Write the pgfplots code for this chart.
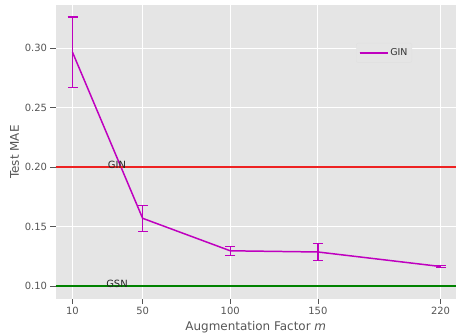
\documentclass[border=0pt]{standalone}
\usepackage{fontspec}
\setmainfont{DejaVu Sans}
\usepackage{pgfplots}
\pgfplotsset{compat=1.18}
\definecolor{bg}{RGB}{229,229,229}
\definecolor{tx}{RGB}{85,85,85}
\definecolor{mag}{RGB}{191,0,191}
\definecolor{gred}{RGB}{238,34,34}
\definecolor{ggreen}{RGB}{0,130,0}
\begin{document}
\begin{tikzpicture}
\begin{axis}[
 set layers, axis on top=false,
 scale only axis, width=400.5bp, height=294bp,
 xmin=0.3, xmax=228.8, ymin=0.0892, ymax=0.3362,
 axis background/.style={fill=bg},
 axis line style={draw=none},
 grid=major, major grid style={color=white, line width=0.9pt},
 xtick={10,50,100,150,220},
 ytick={0.10,0.15,0.20,0.25,0.30},
 xtick pos=lower, ytick pos=left,
 yticklabel style={/pgf/number format/.cd, fixed, fixed zerofill, precision=2},
 tick align=outside, tick style={color=tx, line width=0.7pt}, major tick length=5bp,
 ticklabel style={font=\fontsize{10}{10}\selectfont, text=tx},
 /pgf/number format/assume math mode=true,
 xlabel={Augmentation Factor \textit{m}}, ylabel={Test MAE},
 label style={font=\fontsize{12}{12}\selectfont, text=tx},
 xlabel style={at={(axis description cs:0.5,-0.0952)}, anchor=center},
 ylabel style={at={(axis description cs:-0.1024,0.5)}, anchor=center},
 legend style={at={(0.7505,0.871)}, anchor=north west, fill=bg, draw=black!12, rounded corners=2pt, font=\fontsize{9.5}{9.5}\selectfont, text=black!80, inner xsep=2.5pt, inner ysep=3.5pt},
 legend cell align=left,
 legend image code/.code={\path (0bp,0bp) -- (28bp,0bp); \draw[color=mag, line width=1.5pt] (0bp,0bp) -- (22bp,0bp);},
]
\addplot[color=mag, line width=1.5pt, mark=none,
  error bars/y dir=both, error bars/y explicit,
  error bars/error mark=|,
  error bars/error bar style={line width=1.3pt},
  error bars/error mark options={line width=1.3pt, mark size=5bp}]
 table[x=x, y=y, y error=e] {
x y e
10 0.2965 0.0295
50 0.157 0.011
100 0.1297 0.0037
150 0.1287 0.0071
220 0.1165 0.0008
};
\addlegendentry{GIN}
\addplot[color=gred, line width=1.5pt, forget plot] coordinates {(0.3,0.2) (228.8,0.2)};
\addplot[color=ggreen, line width=1.5pt, forget plot] coordinates {(0.3,0.1) (228.8,0.1)};
\node[anchor=base, font=\fontsize{10}{10}\selectfont, inner sep=0pt, text=black!85] at (axis cs:35.4,0.1985) {GIN};
\node[anchor=base, font=\fontsize{10}{10}\selectfont, inner sep=0pt, text=black!85] at (axis cs:35.4,0.0985) {GSN};
\end{axis}
\pgfresetboundingbox
\path ([xshift=-55.5bp,yshift=-36bp]current axis.south west) rectangle ([yshift=5bp]current axis.north east);
\end{tikzpicture}
\end{document}
